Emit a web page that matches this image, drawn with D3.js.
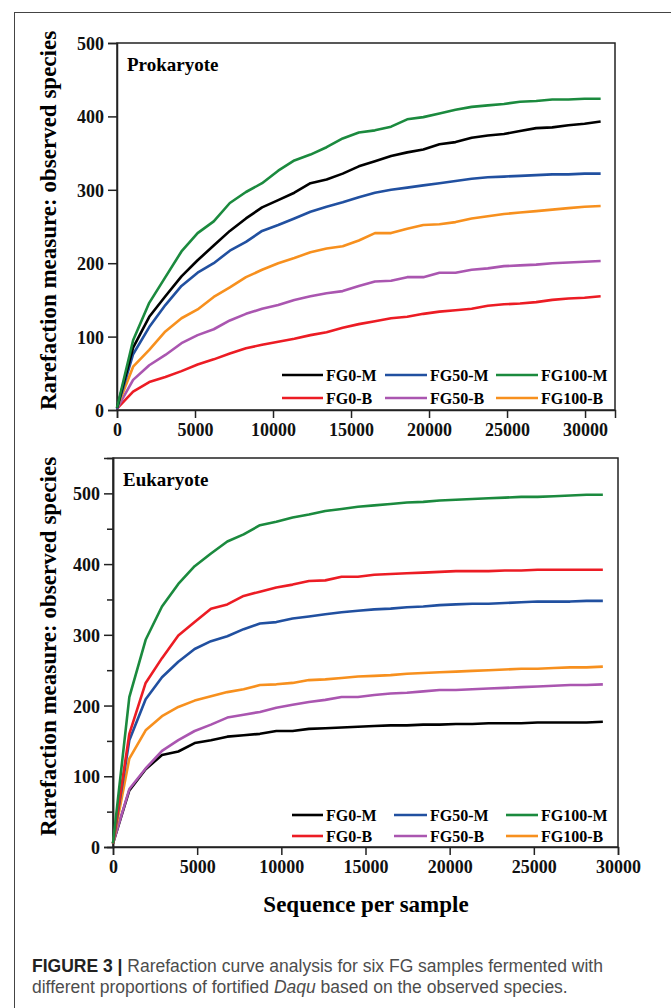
<!DOCTYPE html>
<html>
<head>
<meta charset="utf-8">
<script src="https://cdn.jsdelivr.net/npm/d3@7"></script>
<style>
  body { margin: 0; background: #fff; }
  svg { display: block; }
  .tick text { font-family: "Liberation Serif", "Times New Roman", serif; font-weight: bold; }
</style>
</head>
<body>
<div id="chart"></div>
<script>
// sample names and colours, same order in both panels
const seriesNames = ["FG0-M", "FG50-M", "FG100-M", "FG0-B", "FG50-B", "FG100-B"];
const seriesColors = ["#000000", "#2150a0", "#1b8a3e", "#ec1c24", "#aa56b0", "#f7901e"];

// Prokaryote: rarefaction depths and observed species
const proDepths = [0, 1033, 2067, 3100, 4133, 5167, 6200, 7233, 8267, 9300, 10333, 11367, 12400, 13433, 14467,
  15500, 16533, 17567, 18600, 19633, 20667, 21700, 22733, 23767, 24800, 25833, 26867, 27900, 28933, 29967, 31000];
const proFG0M = [3, 85, 127, 155, 182, 204, 224, 244, 261, 276, 286, 296, 309, 314, 322, 332, 339, 346, 351, 355, 362, 365, 371, 374, 376, 380, 384, 385, 388, 390, 393];
const proFG50M = [2, 76, 113, 143, 169, 187, 200, 217, 229, 244, 252, 261, 270, 277, 283, 290, 296, 300, 303, 306, 309, 312, 315, 317, 318, 319, 320, 321, 321, 322, 322];
const proFG100M = [3, 95, 146, 181, 216, 241, 257, 282, 297, 309, 326, 340, 348, 358, 370, 378, 381, 386, 396, 399, 404, 409, 413, 415, 417, 420, 421, 423, 423, 424, 424];
const proFG0B = [2, 25, 38, 45, 53, 62, 69, 77, 84, 89, 93, 97, 102, 106, 112, 117, 121, 125, 127, 131, 134, 136, 138, 142, 144, 145, 147, 150, 152, 153, 155];
const proFG50B = [2, 41, 61, 75, 91, 102, 110, 122, 131, 138, 143, 150, 155, 159, 162, 169, 175, 176, 181, 181, 187, 187, 191, 193, 196, 197, 198, 200, 201, 202, 203];
const proFG100B = [3, 59, 82, 107, 125, 137, 154, 167, 181, 191, 200, 207, 215, 220, 223, 231, 241, 241, 247, 252, 253, 256, 261, 264, 267, 269, 271, 273, 275, 277, 278];

// Eukaryote
const euDepths = [0, 970, 1940, 2910, 3880, 4850, 5820, 6790, 7760, 8730, 9700, 10670, 11640, 12610, 13580,
  14550, 15520, 16490, 17460, 18430, 19400, 20370, 21340, 22310, 23280, 24250, 25220, 26190, 27160, 28130, 29100];
const euFG0M = [5, 80, 110, 130, 135, 147, 151, 156, 158, 160, 164, 164, 167, 168, 169, 170, 171, 172, 172, 173, 173, 174, 174, 175, 175, 175, 176, 176, 176, 176, 177];
const euFG50M = [5, 151, 209, 240, 262, 280, 291, 298, 308, 316, 318, 323, 326, 329, 332, 334, 336, 337, 339, 340, 342, 343, 344, 344, 345, 346, 347, 347, 347, 348, 348];
const euFG100M = [5, 212, 293, 340, 372, 397, 415, 432, 442, 455, 460, 466, 470, 475, 478, 481, 483, 485, 487, 488, 490, 491, 492, 493, 494, 495, 495, 496, 497, 498, 498];
const euFG0B = [5, 160, 232, 267, 299, 318, 337, 343, 355, 361, 367, 371, 376, 377, 382, 382, 385, 386, 387, 388, 389, 390, 390, 390, 391, 391, 392, 392, 392, 392, 392];
const euFG50B = [5, 82, 111, 136, 151, 164, 173, 183, 187, 191, 197, 201, 205, 208, 212, 212, 215, 217, 218, 220, 222, 222, 223, 224, 225, 226, 227, 228, 229, 229, 230];
const euFG100B = [5, 125, 165, 185, 198, 207, 213, 219, 223, 229, 230, 232, 236, 237, 239, 241, 242, 243, 245, 246, 247, 248, 249, 250, 251, 252, 252, 253, 254, 254, 255];

const xTicks = [0, 5000, 10000, 15000, 20000, 25000, 30000];
const proYTicks = [0, 100, 200, 300, 400, 500];
const euYTicks = [0, 100, 200, 300, 400, 500];
const euYMinor = [50, 150, 250, 350, 450];

const W = 671, H = 1008;
const serif = '"Liberation Serif", "Times New Roman", serif';

const svg = d3.select("#chart").append("svg")
  .attr("width", W)
  .attr("height", H);

// page border (top + left)
svg.append("line").attr("x1", 14).attr("x2", W).attr("y1", 12.5).attr("y2", 12.5)
  .attr("stroke", "#444").attr("stroke-width", 1);
svg.append("line").attr("x1", 14.5).attr("x2", 14.5).attr("y1", 12).attr("y2", H)
  .attr("stroke", "#444").attr("stroke-width", 1);

function drawPanel(cfg) {
  const x = d3.scaleLinear().domain(cfg.xDomain).range([cfg.left, cfg.right]);
  const y = d3.scaleLinear().domain(cfg.yDomain).range([cfg.bottom, cfg.top]);
  const g = svg.append("g");

  // frame
  g.append("rect")
    .attr("x", cfg.left).attr("y", cfg.top)
    .attr("width", cfg.right - cfg.left).attr("height", cfg.bottom - cfg.top)
    .attr("fill", "none").attr("stroke", "#222").attr("stroke-width", 1.5);

  const xAxis = g.append("g")
    .attr("transform", `translate(0,${cfg.bottom})`)
    .call(d3.axisBottom(x).tickValues(xTicks).tickSize(8).tickPadding(5).tickFormat(d3.format("d")));
  xAxis.selectAll("text").attr("font-size", 18).attr("fill", "#111");

  const yAxis = g.append("g")
    .attr("transform", `translate(${cfg.left},0)`)
    .call(d3.axisLeft(y).tickValues(cfg.yTicks).tickSize(9).tickPadding(4));
  yAxis.selectAll("text").attr("font-size", 18).attr("fill", "#111").attr("dy", "0.36em");

  if (cfg.yMinor) {
    g.append("g")
      .attr("transform", `translate(${cfg.left},0)`)
      .call(d3.axisLeft(y).tickValues(cfg.yMinor).tickSize(6).tickFormat(""));
  }
  g.selectAll(".domain").attr("stroke", "#222").attr("stroke-width", 1.5);
  g.selectAll(".tick line").attr("stroke", "#222").attr("stroke-width", 1.5);

  // curves
  const line = d3.line()
    .x((d, i) => x(cfg.depths[i]))
    .y(d => y(d));
  cfg.order.forEach(k => {
    g.append("path")
      .datum(cfg.values[k])
      .attr("fill", "none")
      .attr("stroke", seriesColors[k])
      .attr("stroke-width", 2.6)
      .attr("stroke-linejoin", "round")
      .attr("d", line);
  });

  // panel title
  g.append("text")
    .attr("x", cfg.left + 10).attr("y", cfg.top + 28)
    .attr("font-family", serif).attr("font-weight", "bold").attr("font-size", 19)
    .text(cfg.title);

  // y label
  g.append("text")
    .attr("transform", `translate(56,${(cfg.top + cfg.bottom) / 2 - 6}) rotate(-90)`)
    .attr("text-anchor", "middle")
    .attr("font-family", serif).attr("font-weight", "bold").attr("font-size", 23)
    .text("Rarefaction measure: observed species");

  // legend, 3 columns x 2 rows
  seriesNames.forEach((name, i) => {
    const col = i % 3, row = Math.floor(i / 3);
    const lx = cfg.legendX[col], ly = cfg.legendY[row];
    g.append("line")
      .attr("x1", lx).attr("x2", lx + cfg.legendLen[col])
      .attr("y1", ly).attr("y2", ly)
      .attr("stroke", seriesColors[i]).attr("stroke-width", 2.6);
    g.append("text")
      .attr("x", lx + cfg.legendLen[col] + 3).attr("y", ly + 6)
      .attr("font-family", serif).attr("font-weight", "bold").attr("font-size", 16)
      .text(name);
  });
}

drawPanel({
  title: "Prokaryote",
  left: 117, right: 615, top: 43, bottom: 410,
  xDomain: [0, 31920], yDomain: [0, 500],
  yTicks: proYTicks,
  depths: proDepths,
  values: [proFG0M, proFG50M, proFG100M, proFG0B, proFG50B, proFG100B],
  order: [3, 4, 5, 1, 0, 2],
  legendX: [282, 385, 496], legendLen: [41, 42, 42], legendY: [375, 398]
});

drawPanel({
  title: "Eukaryote",
  left: 113, right: 618, top: 458, bottom: 847,
  xDomain: [0, 30000], yDomain: [0, 550],
  yTicks: euYTicks, yMinor: euYMinor,
  depths: euDepths,
  values: [euFG0M, euFG50M, euFG100M, euFG0B, euFG50B, euFG100B],
  order: [0, 4, 5, 1, 3, 2],
  legendX: [292, 394, 506], legendLen: [31, 33, 32], legendY: [815, 836]
});

// x label
svg.append("text")
  .attr("x", 366).attr("y", 912)
  .attr("text-anchor", "middle")
  .attr("font-family", serif).attr("font-weight", "bold").attr("font-size", 23)
  .text("Sequence per sample");

// caption
const cap = svg.append("text")
  .attr("font-family", '"Liberation Sans", Arial, sans-serif')
  .attr("font-size", 17.5)
  .attr("fill", "#4d4d4d");
const l1 = cap.append("tspan").attr("x", 32).attr("y", 972);
l1.append("tspan").attr("font-weight", "bold").attr("fill", "#222").text("FIGURE 3 | ");
l1.append("tspan").text("Rarefaction curve analysis for six FG samples fermented with");
const l2 = cap.append("tspan").attr("x", 32).attr("y", 993);
l2.append("tspan").text("different proportions of fortified ");
l2.append("tspan").attr("font-style", "italic").text("Daqu");
l2.append("tspan").text(" based on the observed species.");
</script>
</body>
</html>
